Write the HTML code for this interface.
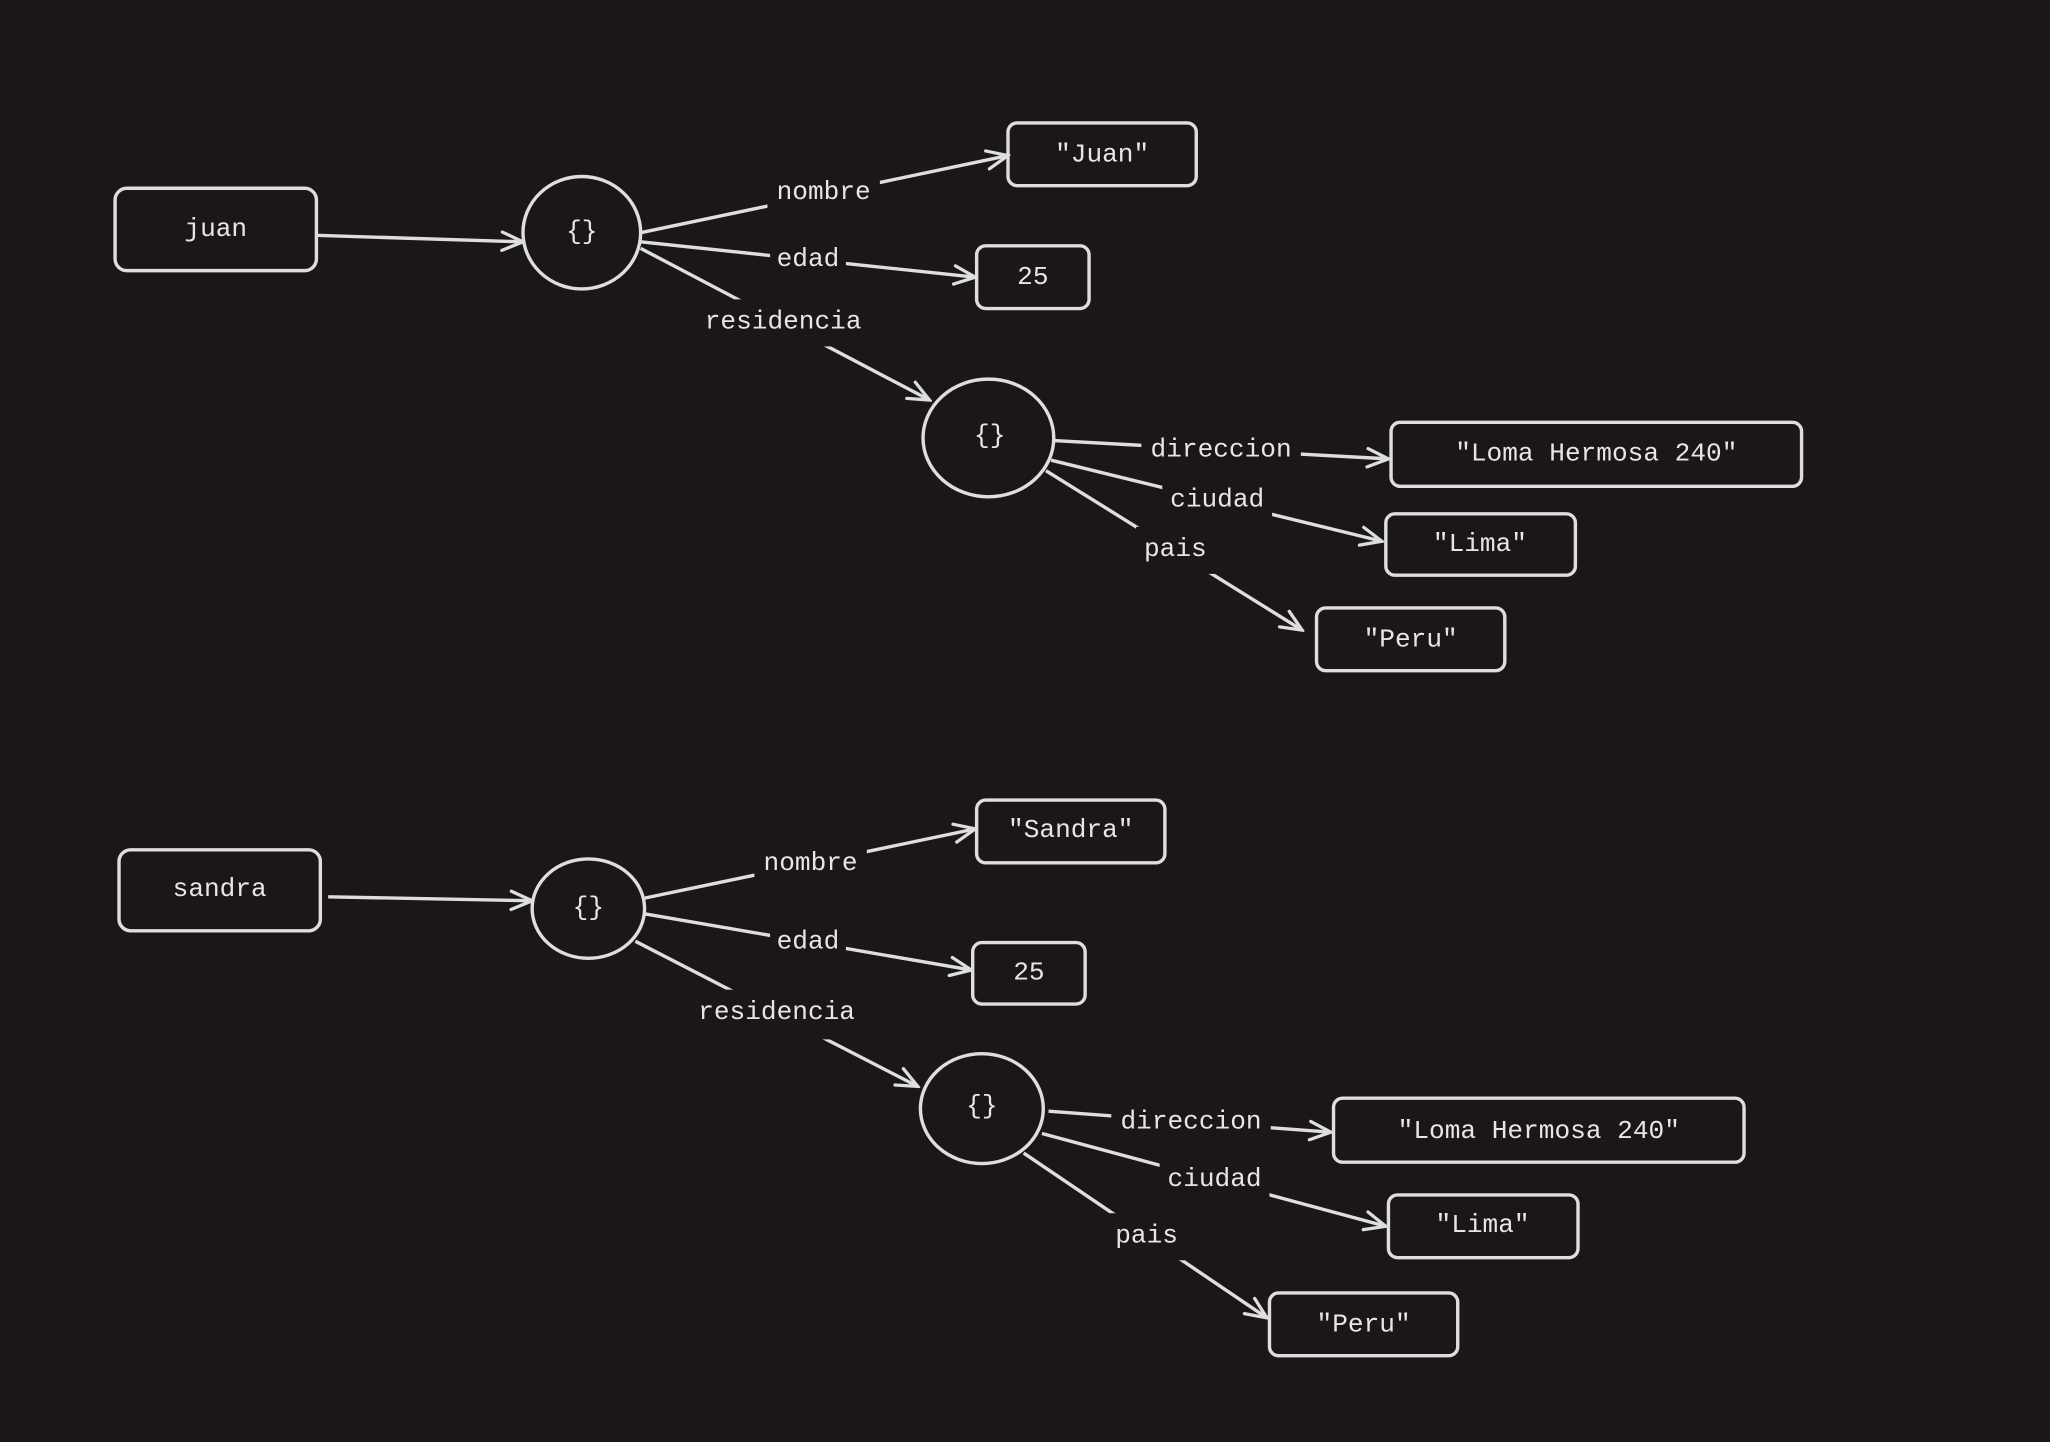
<!DOCTYPE html>
<html><head><meta charset="utf-8"><style>
html,body{margin:0;padding:0;background:#1b1717;}
svg{display:block}
text{font-family:"Liberation Mono",monospace;fill:#e6e6e6;font-size:20px;text-anchor:middle;dominant-baseline:central}
</style></head><body>
<svg width="2050" height="1442" viewBox="0 0 1568 1103" xmlns="http://www.w3.org/2000/svg">
<defs>
<marker id="a" viewBox="0 0 20 20" refX="18" refY="10" markerWidth="20" markerHeight="20" markerUnits="userSpaceOnUse" orient="auto">
<path d="M2,3 L18,10 L2,17" fill="none" stroke="#dedede" stroke-width="2.5" stroke-linecap="round"/>
</marker>
</defs>
<rect width="1568" height="1103" fill="#1b1717"/>
<g fill="none" stroke="#dedede" stroke-width="2.6">
<rect x="88" y="144" width="154" height="63" rx="9"/>
<ellipse cx="445" cy="178" rx="45" ry="43"/>
<rect x="771" y="94" width="144" height="48" rx="7"/>
<rect x="747" y="188" width="86" height="48" rx="7"/>
<ellipse cx="756" cy="335" rx="50" ry="45"/>
<rect x="1064" y="323" width="314" height="49" rx="7"/>
<rect x="1060" y="393" width="145" height="47" rx="7"/>
<rect x="1007" y="465" width="144" height="48" rx="7"/>
<rect x="91" y="650" width="154" height="62" rx="9"/>
<ellipse cx="450" cy="695" rx="43" ry="38"/>
<rect x="747" y="612" width="144" height="48" rx="7"/>
<rect x="744" y="721" width="86" height="47" rx="7"/>
<ellipse cx="751" cy="848" rx="47" ry="42"/>
<rect x="1020" y="840" width="314" height="49" rx="7"/>
<rect x="1062" y="914" width="145" height="48" rx="7"/>
<rect x="971" y="989" width="144" height="48" rx="7"/>
</g>
<g stroke="#dedede" stroke-width="2.6" marker-end="url(#a)">
<line x1="242" y1="180" x2="400" y2="185"/>
<line x1="490" y1="178" x2="771" y2="119"/>
<line x1="490" y1="185" x2="746" y2="212"/>
<line x1="490" y1="190" x2="711" y2="306"/>
<line x1="806" y1="337" x2="1062" y2="351"/>
<line x1="804" y1="352" x2="1057" y2="414"/>
<line x1="800" y1="360" x2="996" y2="482"/>
<line x1="251" y1="686" x2="407" y2="689"/>
<line x1="493" y1="687" x2="746" y2="634"/>
<line x1="493" y1="699" x2="743" y2="742"/>
<line x1="486" y1="720" x2="702" y2="831"/>
<line x1="802" y1="850" x2="1018" y2="866"/>
<line x1="797" y1="867" x2="1060" y2="938"/>
<line x1="783" y1="882" x2="969" y2="1008"/>
</g>
<g fill="#1b1717">
<rect x="587" y="132" width="86" height="30"/>
<rect x="589" y="183" width="58" height="30"/>
<rect x="532" y="229" width="134" height="36"/>
<rect x="873" y="329" width="122" height="30"/>
<rect x="889" y="367" width="84" height="30"/>
<rect x="869" y="403" width="60" height="36"/>
<rect x="577" y="645" width="86" height="30"/>
<rect x="589" y="705" width="58" height="30"/>
<rect x="527" y="757" width="134" height="38"/>
<rect x="850" y="843" width="122" height="30"/>
<rect x="887" y="886" width="84" height="30"/>
<rect x="847" y="928" width="60" height="36"/>
</g>
<text x="165" y="175">juan</text>
<text x="445" y="177">{}</text>
<text x="843" y="118">"Juan"</text>
<text x="790" y="212">25</text>
<text x="757" y="333">{}</text>
<text x="1221" y="347">"Loma Hermosa 240"</text>
<text x="1132" y="416">"Lima"</text>
<text x="1079" y="489">"Peru"</text>
<text x="630" y="147">nombre</text>
<text x="618" y="198">edad</text>
<text x="599" y="246">residencia</text>
<text x="934" y="344">direccion</text>
<text x="931" y="382">ciudad</text>
<text x="899" y="420">pais</text>
<text x="168" y="680">sandra</text>
<text x="450" y="694">{}</text>
<text x="819" y="635">"Sandra"</text>
<text x="787" y="744">25</text>
<text x="751" y="846">{}</text>
<text x="1177" y="865">"Loma Hermosa 240"</text>
<text x="1134" y="937">"Lima"</text>
<text x="1043" y="1013">"Peru"</text>
<text x="620" y="660">nombre</text>
<text x="618" y="720">edad</text>
<text x="594" y="774">residencia</text>
<text x="911" y="858">direccion</text>
<text x="929" y="902">ciudad</text>
<text x="877" y="945">pais</text>
</svg>
</body></html>
